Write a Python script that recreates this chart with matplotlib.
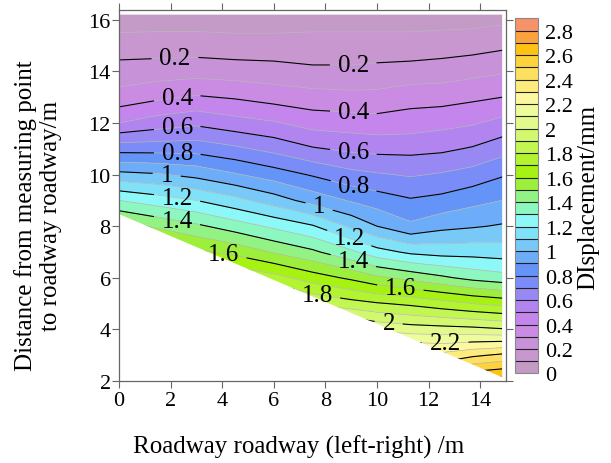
import numpy as np
import matplotlib
matplotlib.use("Agg")
import matplotlib.pyplot as plt
from matplotlib.patches import Polygon

plt.rcParams["font.family"] = ["Liberation Serif", "DejaVu Serif"]

# Measuring grid: x across the roadway (m), y distance from measuring point (m)
x_pos = [0.0, 1.5, 3.0, 4.5, 6.0, 7.5, 9.0, 10.0, 11.3, 12.5, 13.7, 14.85]
y_pos = [2.0, 3.0, 4.0, 5.0, 6.0, 7.0, 8.0, 9.0, 10.0, 11.0, 12.0, 13.0, 14.0, 15.0, 16.2]

# Displacement (mm), one row per y_pos value, one column per x_pos value
disp = [
    [2.90, 2.80, 2.70, 2.66, 2.68, 2.60, 2.65, 2.68, 2.65, 2.60, 2.73, 2.76],
    [2.70, 2.60, 2.50, 2.44, 2.45, 2.37, 2.40, 2.38, 2.35, 2.33, 2.38, 2.42],
    [2.50, 2.40, 2.28, 2.22, 2.22, 2.13, 2.13, 2.08, 2.05, 2.04, 2.03, 2.01],
    [2.30, 2.20, 2.06, 2.00, 1.99, 1.89, 1.84, 1.81, 1.78, 1.74, 1.70, 1.67],
    [2.05, 1.95, 1.84, 1.79, 1.74, 1.65, 1.58, 1.52, 1.47, 1.42, 1.37, 1.34],
    [1.80, 1.72, 1.62, 1.57, 1.49, 1.42, 1.32, 1.24, 1.18, 1.16, 1.16, 1.15],
    [1.55, 1.48, 1.42, 1.35, 1.28, 1.21, 1.08, 1.00, 0.92, 0.97, 0.99, 1.01],
    [1.30, 1.25, 1.20, 1.13, 1.05, 0.96, 0.89, 0.85, 0.81, 0.83, 0.87, 0.90],
    [1.03, 1.01, 0.97, 0.91, 0.85, 0.79, 0.73, 0.71, 0.69, 0.71, 0.74, 0.79],
    [0.76, 0.76, 0.76, 0.72, 0.67, 0.61, 0.58, 0.57, 0.57, 0.58, 0.61, 0.66],
    [0.50, 0.55, 0.58, 0.54, 0.51, 0.46, 0.45, 0.44, 0.45, 0.47, 0.49, 0.53],
    [0.34, 0.38, 0.41, 0.39, 0.36, 0.34, 0.33, 0.33, 0.36, 0.36, 0.38, 0.40],
    [0.24, 0.25, 0.26, 0.25, 0.24, 0.22, 0.22, 0.23, 0.24, 0.25, 0.27, 0.29],
    [0.15, 0.15, 0.15, 0.14, 0.14, 0.14, 0.14, 0.14, 0.14, 0.15, 0.16, 0.18],
    [0.03, 0.04, 0.04, 0.04, 0.04, 0.05, 0.05, 0.05, 0.05, 0.05, 0.05, 0.06],
]

# lower limit of the measured zone (straight edge from left to right)
edge_x = [0.0, 14.85]
edge_y = [8.47, 2.15]

fill_levels = np.round(np.arange(0, 2.91, 0.1), 1)
line_levels = np.round(np.arange(0.2, 2.61, 0.2), 1)
label_levels = np.round(np.arange(0.2, 2.21, 0.2), 1)
cbar_ticks = np.round(np.arange(0, 2.81, 0.2), 1)

band_colors = [
    "#c49ac6", "#c897d0", "#c892d8", "#c98ce2", "#c486ec", "#b284f0",
    "#9888f4", "#7a8cf8", "#6494f8", "#6cacf8", "#78c8f8", "#80e2f8",
    "#8cf8f8", "#8cf8c0", "#92f284", "#9cf03c", "#a6f212", "#b2f430",
    "#c2f650", "#d2f870", "#e2fa8c", "#eefc9c", "#fcf8a0", "#fdec7c",
    "#fde060", "#fdd23c", "#fdc212", "#fba23e", "#f8926a",
]

# where the inline labels sit
label_spots = [
    (2.17, 14.48), (9.08, 14.22),
    (2.26, 12.93), (9.08, 12.35),
    (2.26, 11.77), (9.08, 10.84),
    (2.26, 10.84), (9.08, 9.50),
    (1.85, 10.02), (7.73, 8.67),
    (2.24, 9.03), (8.89, 7.44),
    (2.24, 8.17), (9.08, 6.66),
    (4.04, 6.86), (10.9, 5.57),
    (7.66, 5.24),
    (10.44, 4.14),
    (12.64, 3.43),
]

X, Y = np.meshgrid(x_pos, y_pos)
Z = np.array(disp)

fig = plt.figure(figsize=(6.11, 4.64), dpi=100)
ax = fig.add_axes([0.1948, 0.1767, 0.6334, 0.7996])

cf = ax.contourf(X, Y, Z, levels=fill_levels, colors=band_colors)
edges = ax.contour(X, Y, Z, levels=fill_levels, colors="#b8b8b8", linewidths=0.5)
cs = ax.contour(X, Y, Z, levels=line_levels, colors="black", linewidths=0.8)

# clip everything to the measured zone
zone = Polygon([(x_pos[0], y_pos[-1]), (x_pos[-1], y_pos[-1]),
                (edge_x[1], edge_y[1]), (edge_x[0], edge_y[0])],
               closed=True, transform=ax.transData)
for c in (cf, edges, cs):
    c.set_clip_path(zone)

labels = ax.clabel(cs, levels=label_levels, manual=label_spots, inline=True,
                   inline_spacing=8, fmt=lambda v: f"{v:g}", fontsize=18)
for t in labels:
    t.set_rotation(0)

ax.set_xlim(0, 15)
ax.set_ylim(2, 16.38)
ax.set_xticks(np.arange(0, 15, 2))
ax.set_yticks(np.arange(2, 17, 2))
for s in ax.spines.values():
    s.set_color("#666666")
    s.set_linewidth(0.9)
ax.tick_params(direction="out", length=5, width=0.8, color="#666666",
               top=True, right=True, labelsize=16, pad=2)
ax.tick_params(axis="y", pad=1)

fig.text(299 / 611, 1 - 447 / 464, "Roadway roadway (left-right) /m",
         ha="center", va="center", fontsize=18)
fig.text(38 / 611, 1 - 216 / 464, "Distance from measuring point\nto roadway roadway/m",
         ha="center", va="center", rotation=90, fontsize=18, multialignment="center")

cax = fig.add_axes([0.8429, 0.1929, 0.0376, 0.7651])
cb = fig.colorbar(cf, cax=cax, ticks=cbar_ticks, drawedges=True)
cb.dividers.set_color("#222222")
cb.dividers.set_linewidth(0.8)
cb.outline.set_edgecolor("#888888")
cb.outline.set_linewidth(0.8)
cax.set_yticklabels([f"{v:g}" for v in cbar_ticks])
cax.tick_params(length=0, labelsize=16, pad=5)
fig.text(588 / 611, 1 - 197 / 464, "DIsplacement/mm", ha="center", va="center",
         rotation=90, fontsize=18)

fig.savefig("out.png", dpi=100)
